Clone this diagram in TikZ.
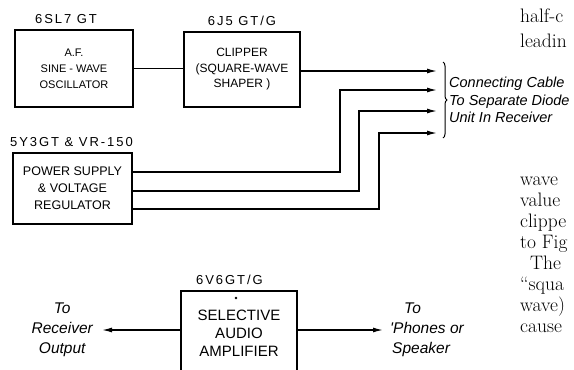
\documentclass[tikz,border=0pt]{standalone}
\usepackage{fontspec}
\newfontfamily\handfont{Liberation Sans}
\newfontfamily\tubefont[LetterSpace=15]{Liberation Sans}
\newfontfamily\notefont{Liberation Sans}
\usetikzlibrary{positioning, arrows.meta, decorations.pathreplacing}
\tikzset{unit/.style={draw, line width=1.5pt, align=center, inner sep=0pt}}
\tikzset{tube/.style={inner sep=1pt, text height=9.5pt, text depth=0pt, font=\tubefont\fontsize{13}{15}\selectfont}}
\tikzset{feed/.style={line width=1.3pt, -{Latex[length=10pt,width=5pt]}}}
\tikzset{note/.style={inner sep=1pt, align=center, font=\notefont\itshape\fontsize{15.5}{20}\selectfont}}
\tikzset{page/.style={inner sep=0pt, anchor=base west, font=\fontsize{19.5}{21}\selectfont}}
\newcommand{\cable}[2]{\draw[feed] (#1) -- (#2);}

\begin{document}
\begin{tikzpicture}[x=1pt, y=-1pt]
\useasboundingbox (0,0) rectangle (574,370);
% units
\node[unit, minimum width=118pt, minimum height=77pt, font=\handfont\fontsize{11}{16}\selectfont] (osc) at (74,68.5) {A.F.\\SINE - WAVE\\OSCILLATOR};
\node[unit, minimum width=116pt, minimum height=75pt, font=\handfont\fontsize{12}{15.5}\selectfont] (clip) at (242,69.5) {CLIPPER\\(SQUARE-WAVE\\SHAPER )};
\node[unit, minimum width=119pt, minimum height=71pt, font=\handfont\fontsize{12.5}{17}\selectfont] (power) at (72.5,188.5) {POWER SUPPLY\\\& VOLTAGE\\REGULATOR};
\node[unit, minimum width=116pt, minimum height=84pt, font=\handfont\fontsize{15}{18}\selectfont] (amp) at (239,333) {SELECTIVE\\AUDIO\\AMPLIFIER};
\fill (236,298) circle (1.3pt);
% tube types
\node[tube, above=5pt of osc, xshift=-8pt] (osctube) {6SL7 GT};
\node[tube, above=5pt of clip] (cliptube) {6J5 GT/G};
\node[tube, above=5pt of power, xshift=-1pt] (powertube) {5Y3GT \& VR-150};
\node[tube, above=5pt of amp, xshift=-9.5pt] (amptube) {6V6GT/G};
% cable to diode unit
\coordinate (c1) at (437,71);
\coordinate (c2) at (437,90);
\coordinate (c3) at (437,111);
\coordinate (c4) at (437,133);
\draw[line width=1.3pt] (osc.east) -- (osc.east -| clip.west);
\cable{clip.east |- c1}{c1}
\foreach \k/\kx/\ky in {2/340/172, 3/359/191, 4/379/209} {
  \coordinate (k\k) at (\kx,\ky);
  \draw[feed] (power.east |- k\k) -- (k\k) |- (c\k);
}
\coordinate (br1) at (443,62);
\coordinate (br2) at (443,138);
\draw[line width=1pt, decorate, decoration={brace, amplitude=4pt}] (br1) -- (br2);
\path (br1) -- (br2) coordinate[midway] (brmid);
\node[note, align=left, right=5pt of brmid, font=\notefont\itshape\fontsize{14.5}{17.5}\selectfont] (cablenote) {Connecting Cable\\To Separate Diode\\Unit In Receiver};
% amplifier outputs
\coordinate (rx) at (102,330);
\coordinate (spk) at (383,330);
\cable{amp.west |- rx}{rx}
\cable{amp.east |- spk}{spk}
\node[note, left=8pt of rx] (rxnote) {To\\Receiver\\Output};
\node[note, align=left, right=6pt of spk] (spknote) {\hspace*{14pt}To\\'Phones or\\\hspace*{2pt}Speaker};
% page text
\foreach \w/\y in {half-c/22, leadin/47, wave/185, value/206, clippe/227, to Fig/248, “squa/290, wave)/311, cause/332}
  \node[page] (pg\y) at (520,\y) {\w};
\node[page] (pg269) at (530,269) {The};
\end{tikzpicture}
\end{document}
